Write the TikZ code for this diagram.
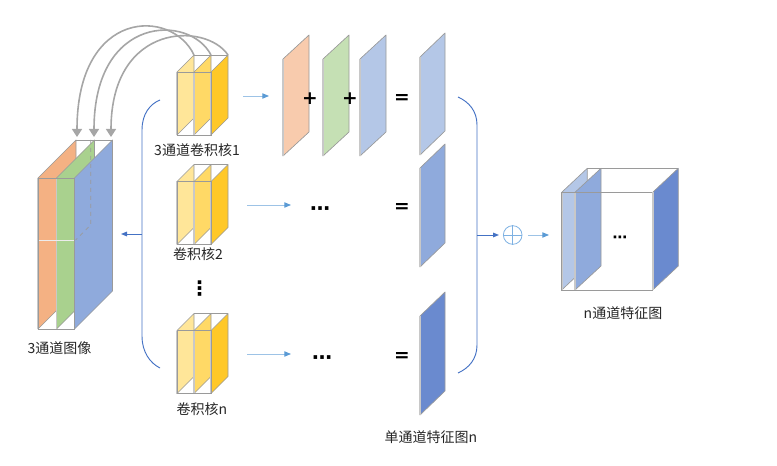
\documentclass[tikz,border=0pt]{standalone}
\usepackage{fontspec}
\newfontfamily\cjk{Noto Sans CJK SC}
\newfontfamily\djv{DejaVu Sans}
\usetikzlibrary{arrows.meta}
\definecolor{kA}{HTML}{FFE699}
\definecolor{kB}{HTML}{FFD966}
\definecolor{kC}{HTML}{FFC828}
\definecolor{imgO}{HTML}{F4B183}
\definecolor{imgG}{HTML}{A9D18E}
\definecolor{imgB}{HTML}{8FAADC}
\definecolor{mapO}{HTML}{F8CBAD}
\definecolor{mapG}{HTML}{C5E0B4}
\definecolor{mapB}{HTML}{B4C7E7}
\definecolor{mapM}{HTML}{8FAADC}
\definecolor{mapD}{HTML}{6A8ACF}
\definecolor{edgegray}{HTML}{9A9A9A}
\definecolor{sidegray}{HTML}{C8C8C8}
\definecolor{arcgray}{HTML}{A6A6A6}
\definecolor{braceblue}{HTML}{4472C4}
\definecolor{lineblue}{HTML}{9DC3E6}
\definecolor{tipblue}{HTML}{5B9BD5}
\definecolor{sumblue}{HTML}{7EB1E2}
\definecolor{txt}{HTML}{262626}
\newcommand\slab[6]{%
  \fill[#6] (#1,#2) -- ++(#3,-#4) -- ++(0,#5) -- ++(-#3,#4) -- cycle;
  \draw[slabedge] (#1,#2) -- ++(#3,-#4) -- ++(0,#5) -- ++(-#3,#4) -- cycle;
  \draw[slabside] (#1,#2) -- ++(0,#5);
}
\newcommand\kernelbox[2]{%
  \slab{#1}{#2}{17}{17}{63}{kA}
  \slab{#1+17}{#2}{17}{17}{63}{kB}
  \slab{#1+34}{#2}{17}{17}{63}{kC}
  \draw[boxedge] (#1,#2) rectangle ++(34,63);
  \draw[boxedge] (#1+17,#2-17) -- ++(34,0);
}
\begin{document}
\begin{tikzpicture}[x=0.75pt,y=-0.75pt,
  slabedge/.style={draw=edgegray,line width=0.5pt,line join=round},
  slabside/.style={draw=sidegray,line width=1.4pt},
  boxedge/.style={draw=edgegray,line width=0.7pt},
  grayarc/.style={draw=arcgray,line width=1.2pt,-{Triangle[length=6pt,width=7.5pt]}},
  bracestyle/.style={draw=braceblue,line width=0.7pt},
  bluearrow/.style={draw=braceblue,line width=0.7pt,-{Triangle[length=4.5pt,width=3.5pt]}},
  lightarrow/.style={draw=lineblue,line width=0.7pt,-{Triangle[length=5pt,width=4pt,color=tipblue]}},
  lbl/.style={inner sep=0pt,text=txt,font=\cjk\fontsize{10.5}{12}\selectfont},
  sym/.style={inner sep=0pt,text=black,font=\djv\bfseries\fontsize{14}{14}\selectfont},
  dots/.style={inner sep=0pt,text=black,font=\djv\bfseries\fontsize{15}{15}\selectfont}]
\useasboundingbox (0,0) rectangle (777,466);

% ---------- 3-channel image ----------
\slab{38}{178}{38}{38}{151}{imgO}
\slab{56.5}{178}{38}{38}{151}{imgG}
\slab{74.5}{178}{38}{38}{151}{imgB}
\draw[draw=gray!15,line width=0.4pt] (38,240) -- (74.5,240);
\draw[boxedge] (38,178) rectangle (74.5,329);
\draw[boxedge] (76,140) -- (112.5,140);
\draw[draw=edgegray,line width=0.5pt,dashed] (90.7,140) -- (90.7,225) -- (75.7,240);
\node[lbl] (ti) at (59.5,348) {3通道图像};

% ---------- kernels ----------
\kernelbox{177}{72}
\kernelbox{177}{181.5}
\kernelbox{177}{330.5}
\node[lbl] (t1) at (197,150) {3通道卷积核1};
\node[lbl] (t2) at (198,254) {卷积核2};
\node[lbl] (tn) at (202,409) {卷积核n};
\node[dots] (vd) at (199.5,289) {⋮};

% ---------- gray arcs ----------
\coordinate (ka) at (194,55);
\coordinate (kb) at (211,55);
\coordinate (kc) at (228,55);
\coordinate (ia) at (77,137);
\coordinate (ib) at (94,137);
\coordinate (ic) at (111,137);
\draw[grayarc] (ka) .. controls (172,8) and (77,8) .. (ia);
\draw[grayarc] (kb) .. controls (190,14) and (94,14) .. (ib);
\draw[grayarc] (kc) .. controls (206,22) and (111,22) .. (ic);

% ---------- left brace ----------
\coordinate (lbt) at (160,100);
\coordinate (lbb) at (160,368);
\coordinate (lbm) at (142,234);
\coordinate (lbo) at (121,234);
\draw[bracestyle] (lbt) .. controls (150,104) and (142,114) .. (142,130)
  -- (142,336) .. controls (142,352) and (150,363) .. (lbb);
\draw[bluearrow] (lbm) -- (lbo);

% ---------- row 1 ----------
\coordinate (a1s) at (243,96);
\coordinate (a1e) at (269,96);
\draw[lightarrow] (a1s) -- (a1e);
\slab{283}{59}{26}{24}{97}{mapO}
\slab{323}{59}{26}{24}{97}{mapG}
\slab{360}{59}{26}{24}{97}{mapB}
\node[sym] (p1) at (310,99) {+};
\node[sym] (p2) at (350,99) {+};
\node[sym] (e1) at (402,99) {=};
\slab{420}{57}{25}{24}{98}{mapB}

% ---------- row 2 ----------
\coordinate (a2s) at (247,205);
\coordinate (a2e) at (291,205);
\draw[lightarrow] (a2s) -- (a2e);
\node[dots] (d2) at (320,211) {⋯};
\node[sym] (e2) at (402,208) {=};
\slab{420}{168}{25}{24}{99}{mapM}

% ---------- row n ----------
\coordinate (a3s) at (247,354);
\coordinate (a3e) at (291,354);
\draw[lightarrow] (a3s) -- (a3e);
\node[dots] (d3) at (322,360) {⋯};
\node[sym] (e3) at (402,357) {=};
\slab{420}{316}{25}{24}{99}{mapD}
\node[lbl] (tf) at (431,437) {单通道特征图n};

% ---------- right brace ----------
\coordinate (rbt) at (458,97);
\coordinate (rbb) at (458,373);
\coordinate (rbm) at (477,235);
\coordinate (rbo) at (499,235);
\draw[bracestyle] (rbt) .. controls (469,102) and (477,111) .. (477,125)
  -- (477,345) .. controls (477,359) and (469,368) .. (rbb);
\draw[bluearrow] (rbm) -- (rbo);

% ---------- sum ----------
\node[circle,draw=sumblue,line width=0.6pt,minimum size=14pt,inner sep=0pt] (sum) at (512.7,235) {};
\draw[draw=sumblue,line width=0.6pt] (sum.north) -- (sum.south) (sum.west) -- (sum.east);
\coordinate (s2) at (549,235);
\draw[lightarrow] (sum.east) ++(6,0) -- (s2);

% ---------- n-channel map ----------
\slab{561.7}{192.3}{25.6}{24}{97.7}{mapB}
\slab{575}{192.3}{26}{24}{97.7}{mapM}
\draw[boxedge] (561.7,192.3) rectangle (652.7,290);
\draw[boxedge] (587.3,168.3) -- (678.3,168.3);
\slab{652.7}{192.3}{25.6}{24}{97.7}{mapD}
\node[font=\djv\bfseries\fontsize{11}{11}\selectfont,inner sep=0pt] (d4) at (620,239) {⋯};
\node[lbl] (to) at (623,313) {n通道特征图};
\end{tikzpicture}
\end{document}
